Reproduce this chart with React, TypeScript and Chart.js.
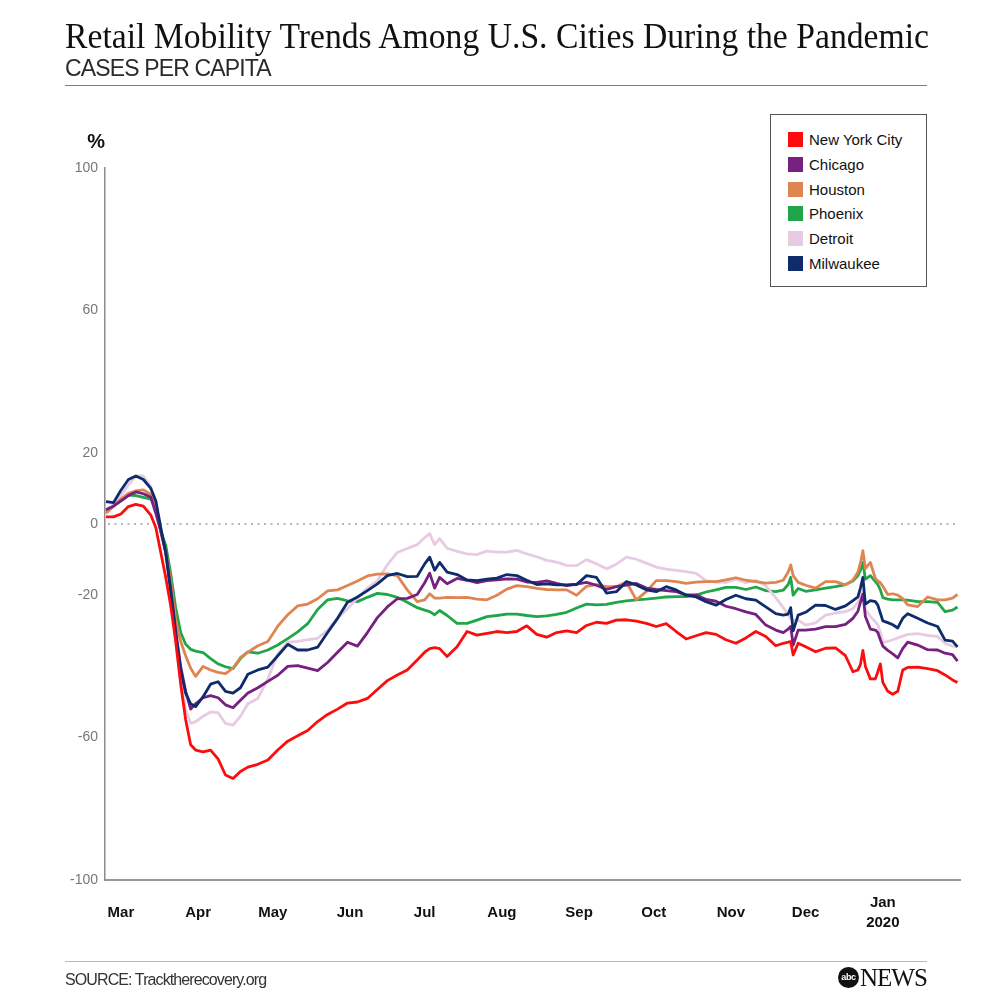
import React, { useEffect, useRef } from 'react';
import { Chart, registerables } from 'chart.js';

Chart.register(...registerables);

// Day offsets from March 1 (day 0 = Mar 1)
const days = [-6, -3, 0, 3, 6, 9, 12, 14, 16, 18, 20, 22, 24, 26, 28, 30, 33, 36, 39, 42, 45, 48, 51, 55, 59, 63, 67, 71, 75, 79, 83, 87, 91, 95, 99, 103, 107, 111, 115, 119, 122, 124, 126, 128, 131, 135, 139, 143, 147, 151, 155, 159, 163, 167, 171, 175, 179, 183, 187, 191, 195, 199, 203, 207, 211, 215, 219, 223, 227, 231, 235, 239, 243, 247, 251, 255, 259, 263, 266, 268, 269, 270, 272, 275, 279, 283, 287, 291, 294, 296, 297, 298, 299, 301, 303, 304, 305, 306, 308, 310, 312, 314, 316, 320, 324, 328, 331, 334, 336];

const newYorkCity = [2.0, 2.0, 2.8, 4.9, 5.5, 5.0, 2.5, -1, -8, -15, -23, -33, -45, -55, -62, -63.5, -64, -63.5, -66, -70.5, -71.5, -69.5, -68.3, -67.5, -66.3, -63.5, -61, -59.5, -58, -55.5, -53.5, -52, -50.3, -50, -49, -46.5, -44, -42.4, -41, -38.2, -36, -35, -34.7, -35, -37.2, -34.5, -30.2, -31.2, -30.7, -30.2, -30.5, -30.2, -28.6, -31, -31.8, -30.5, -30, -30.5, -28.5, -27.6, -27.9, -27, -26.9, -27.3, -27.9, -28.8, -28, -30.2, -32.3, -31.4, -30.5, -31, -32.5, -33.5, -32, -30.2, -31.6, -34.2, -33.5, -33.2, -33, -36.8, -33.5, -34.5, -35.9, -34.9, -34.8, -37, -41.5, -41, -39.5, -35.5, -40, -43.5, -43.5, -41.5, -39.3, -44.5, -47, -47.8, -47, -41, -40.3, -40.2, -40.6, -41.2, -42.4, -43.8, -44.5];

const chicago = [4, 5, 6.5, 8, 9, 8.5, 7.5, 3, -2, -8, -18, -30, -40, -47, -52, -50.5, -48.8, -48.2, -48.8, -50.8, -51.6, -49.5, -47.5, -46, -44.2, -42.5, -40, -39.8, -40.5, -41.2, -38.9, -36, -33.2, -34.3, -30.5, -26.3, -23.3, -21, -20.9, -19.8, -16.5, -13.8, -18, -15, -16.8, -15.3, -15.8, -16.5, -15.9, -15.7, -15.4, -15.5, -16.3, -16.4, -16, -16.7, -17.3, -16.9, -16.4, -17.2, -18.4, -17.6, -17.2, -16.7, -18, -18.4, -18.7, -19, -19.9, -19.9, -21.2, -21.7, -23.1, -23.8, -24.7, -25.4, -28.4, -29.8, -30.5, -29.5, -28.8, -34, -29.8, -29.8, -29.5, -28.8, -28.8, -28.2, -26.5, -24.5, -22, -19.7, -26, -29.5, -29.8, -30.5, -32.5, -34.3, -35.5, -36.5, -37.6, -35, -33.2, -34, -35.3, -35.4, -36.3, -36.7, -38.5];

const houston = [3, 5, 7, 8.6, 9.3, 9.6, 8.3, 5.5, -2, -8, -16, -27, -33, -37, -40.5, -42.8, -40, -41, -41.7, -42, -40.5, -37.5, -36, -34.2, -33, -28.7, -25.5, -23, -22.5, -21, -18.8, -18.5, -17.3, -16, -14.6, -14.1, -14, -14.5, -18.5, -21.8, -21.3, -19.6, -20.8, -20.8, -20.6, -20.7, -20.6, -21.1, -21.3, -20, -18.3, -17.3, -17.6, -18.1, -18.4, -18.5, -18.5, -20, -17.5, -17, -17.6, -17.6, -16.3, -21.3, -19, -15.9, -15.9, -16.2, -16.7, -16.3, -16.2, -16.2, -15.7, -15.1, -15.8, -16.2, -16.6, -16.4, -15.8, -13.5, -11.5, -14.5, -16.4, -17.2, -18, -16.2, -16.2, -17.1, -15.8, -13.5, -11, -7.5, -12.5, -10.8, -15.3, -16, -16.5, -17.5, -19.8, -19.6, -20, -21, -22.7, -23.2, -20.5, -21.3, -21.3, -20.8, -19.8];

const phoenix = [3.5, 5, 6.5, 8.1, 8, 7.5, 7, 5, -2, -6, -14, -23.5, -30.5, -33.8, -35.2, -35.7, -36.1, -37.8, -39.3, -40.1, -40.6, -37.8, -35.9, -36.3, -35.4, -34, -32.2, -30.3, -28, -24, -21.3, -20.9, -21.6, -21.8, -20.6, -19.5, -19.8, -20.6, -22, -23.5, -24.2, -24.6, -25.5, -24.3, -25.7, -27.9, -27.9, -27, -26, -25.7, -25.3, -25.3, -25.7, -26, -25.8, -25.4, -24.8, -23.6, -22.5, -22.7, -22.6, -22, -21.6, -21.3, -21.1, -20.8, -20.5, -20.4, -20.4, -20, -19.1, -18.5, -17.8, -17.8, -18.4, -17.7, -18.7, -19, -18.6, -17, -15, -20, -18.1, -18.9, -18.5, -18, -17.6, -17, -16, -14.5, -13, -10.8, -15.5, -14.5, -16.2, -17, -18.5, -20.7, -21.1, -21.3, -21.3, -21.3, -21.4, -21.8, -21.8, -22, -24.6, -24.2, -23.3];

const detroit = [4, 5.5, 8, 11, 13.5, 13.5, 10.5, 6, -2, -9, -20, -33, -44, -52, -56, -55.5, -54, -52.8, -53, -56, -56.5, -54, -50.5, -49, -43.5, -36.5, -33.2, -33, -32.5, -32.1, -29.8, -26.5, -23.8, -20.8, -18, -15.9, -11.5, -8, -6.9, -5.8, -3.8, -2.7, -5.8, -4.1, -6.8, -7.7, -8.4, -8.6, -7.6, -7.9, -7.9, -7.4, -8.4, -9.2, -10.2, -10.7, -11.6, -11.7, -10, -11.2, -12.6, -11.3, -9.3, -9.9, -11, -12.1, -12.7, -13, -13.4, -13.9, -15.9, -16.3, -16.4, -15.5, -16.5, -15.8, -17.4, -20.7, -23.5, -25.5, -26.5, -27, -27, -28.4, -27.8, -25.6, -25, -24.6, -23.8, -22, -20.5, -18.8, -24, -26, -27.5, -28.3, -30.5, -33.3, -33, -32.5, -32, -31.5, -31, -30.8, -31.3, -31.6, -33.5, -34.3, -34.5];

const milwaukee = [6.3, 6, 9.5, 12.5, 13.5, 12.5, 10, 6.5, -1, -8, -19, -31, -41, -47.5, -50.5, -51.3, -48.5, -45, -44.3, -47, -47.5, -46, -42.2, -41, -40.2, -37, -33.8, -35.4, -35.4, -34.6, -30.5, -26.5, -22, -20.5, -18.7, -16.8, -14.5, -13.9, -14.8, -14.7, -11.2, -9.3, -13, -10.8, -13.5, -14.2, -15.7, -15.9, -15.5, -15.2, -14.2, -14.5, -15.8, -17, -16.8, -17.1, -17.1, -17, -14.5, -15, -19.4, -19, -16.2, -17.1, -18.5, -19, -17.6, -18.5, -20, -20.5, -21.8, -22.8, -21.2, -20, -21, -21.4, -23.3, -25.2, -25.6, -25.3, -23.5, -30, -25.6, -24.8, -22.8, -22.9, -24, -23, -21.5, -20.5, -18, -15, -22.5, -21.5, -21.8, -22.8, -25, -27.2, -27.7, -28.3, -29.2, -26.5, -25.2, -26.5, -27.8, -28.8, -32.6, -32.9, -34.5];

const monthTicks = [0, 31, 61, 92, 122, 153, 184, 214, 245, 275, 306];
const monthLabels: (string | string[])[] = ['Mar', 'Apr', 'May', 'Jun', 'Jul', 'Aug', 'Sep', 'Oct', 'Nov', 'Dec', ['Jan', '2020']];
const yTicks = [100, 60, 20, 0, -20, -60, -100];

const seriesNames = ['New York City', 'Chicago', 'Houston', 'Phoenix', 'Detroit', 'Milwaukee'];
const seriesValues = [newYorkCity, chicago, houston, phoenix, detroit, milwaukee];
const seriesColors = ['#fb0d0d', '#77207f', '#df8552', '#20a648', '#e7cbe2', '#0e2c6c'];
const seriesOrder = [0, 2, 3, 5, 4, 1];

const sans = '"Liberation Sans", Arial, sans-serif';
const serif = '"Liberation Serif", "Times New Roman", serif';

export default function App() {
  const ref = useRef<HTMLCanvasElement>(null);

  useEffect(() => {
    document.body.style.margin = '0';
    if (!ref.current) return;
    const zeroLine = {
      id: 'zeroLine',
      beforeDatasetsDraw(chart: any) {
        const { ctx, chartArea, scales } = chart;
        const y = scales.y.getPixelForValue(0);
        ctx.save();
        ctx.setLineDash([2, 4.5]);
        ctx.strokeStyle = '#a0a0a0';
        ctx.lineWidth = 1.5;
        ctx.beginPath();
        ctx.moveTo(chartArea.left + 3, y);
        ctx.lineTo(chartArea.right - 4, y);
        ctx.stroke();
        ctx.restore();
      },
    };
    const chart = new Chart(ref.current, {
      type: 'line',
      data: {
        datasets: seriesValues.map((vals, i) => ({
          label: seriesNames[i],
          data: days.map((d, j) => ({ x: d, y: vals[j] })),
          borderColor: seriesColors[i],
          backgroundColor: seriesColors[i],
          borderWidth: 2.8,
          pointRadius: 0,
          tension: 0,
          fill: false,
          order: seriesOrder[i],
          borderJoinStyle: 'round' as const,
        })),
      },
      options: {
        responsive: false,
        animation: false,
        events: [],
        layout: { padding: { left: 0, top: 168, right: 32, bottom: 52 } },
        plugins: { legend: { display: false }, tooltip: { enabled: false }, title: { display: false } },
        scales: {
          x: {
            type: 'linear',
            min: -6.4,
            max: 337,
            grid: { display: false, drawTicks: false },
            border: { display: true, color: '#9a9a9a', width: 2 },
            afterFit: (scale: any) => { scale.height = 60; },
            afterBuildTicks: (scale: any) => { scale.ticks = monthTicks.map((v) => ({ value: v })); },
            ticks: {
              autoSkip: false,
              maxRotation: 0,
              minRotation: 0,
              padding: 23,
              crossAlign: 'center',
              color: '#111',
              font: { family: sans, size: 15, weight: 'bold', lineHeight: 1.3 },
              callback: (_v: any, i: number) => monthLabels[i],
            },
          },
          y: {
            type: 'linear',
            min: -100,
            max: 100,
            grid: { display: false, drawTicks: false },
            border: { display: true, color: '#8c8c8c', width: 1.5 },
            afterFit: (scale: any) => { scale.width = 105; },
            afterBuildTicks: (scale: any) => { scale.ticks = yTicks.map((v) => ({ value: v })); },
            ticks: {
              autoSkip: false,
              padding: 7,
              color: '#777',
              font: { family: sans, size: 14 },
              callback: (v: any) => String(v),
            },
          },
        },
      },
      plugins: [zeroLine],
    } as any);
    return () => chart.destroy();
  }, []);

  return (
    <div style={{ position: 'absolute', left: 0, top: 0, width: 992, height: 992, background: '#fff', overflow: 'hidden' }}>
      <canvas ref={ref} width={992} height={992} style={{ position: 'absolute', left: 0, top: 0, width: 992, height: 992 }} />
      <div style={{ position: 'absolute', left: 65, top: 18, fontFamily: serif, fontSize: 36, lineHeight: '36px', color: '#111', whiteSpace: 'nowrap', transform: 'scaleX(0.935)', transformOrigin: 'left top' }}>
        Retail Mobility Trends Among U.S. Cities During the Pandemic
      </div>
      <div style={{ position: 'absolute', left: 65, top: 57, fontFamily: sans, fontSize: 23, lineHeight: '23px', letterSpacing: '-0.85px', color: '#2a2a2a', whiteSpace: 'nowrap' }}>
        CASES PER CAPITA
      </div>
      <div style={{ position: 'absolute', left: 65, top: 85, width: 862, height: 0, borderTop: '1.5px solid #808080' }} />
      <div style={{ position: 'absolute', left: 80, top: 131, width: 25, textAlign: 'right', fontFamily: sans, fontSize: 20, lineHeight: '20px', fontWeight: 'bold', color: '#111' }}>
        %
      </div>
      <div style={{ position: 'absolute', left: 770, top: 114, width: 157, height: 173, boxSizing: 'border-box', border: '1px solid #555', background: '#fff' }}>
        {seriesNames.map((name, i) => (
          <div key={name} style={{ position: 'absolute', left: 17, top: 17 + i * 24.8, height: 15, display: 'flex', alignItems: 'center' }}>
            <div style={{ width: 15, height: 15, background: seriesColors[i] }} />
            <div style={{ marginLeft: 6, fontFamily: sans, fontSize: 15, lineHeight: '15px', color: '#111', whiteSpace: 'nowrap' }}>{name}</div>
          </div>
        ))}
      </div>
      <div style={{ position: 'absolute', left: 65, top: 961, width: 862, height: 0, borderTop: '1px solid #bbbbbb' }} />
      <div style={{ position: 'absolute', left: 65, top: 972, fontFamily: sans, fontSize: 16, lineHeight: '16px', letterSpacing: '-0.9px', color: '#333', whiteSpace: 'nowrap' }}>
        SOURCE: Tracktherecovery.org
      </div>
      <div style={{ position: 'absolute', left: 838, top: 967, width: 21, height: 21, borderRadius: '50%', background: '#111', color: '#fff', fontFamily: sans, fontWeight: 'bold', fontSize: 9, lineHeight: '21px', textAlign: 'center', letterSpacing: '-0.3px' }}>
        abc
      </div>
      <div style={{ position: 'absolute', left: 860, top: 965, fontFamily: serif, fontSize: 25, lineHeight: '25px', letterSpacing: '-1px', color: '#111', whiteSpace: 'nowrap' }}>
        NEWS
      </div>
    </div>
  );
}
